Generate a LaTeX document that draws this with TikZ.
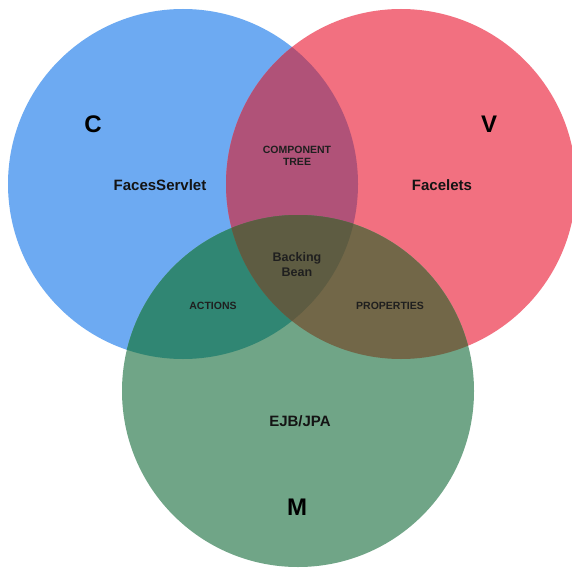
\documentclass[tikz,border=0pt]{standalone}
\usepackage{fontspec}
\setmainfont{Liberation Sans}
\usepackage{tikz}
\usetikzlibrary{positioning}
\usepackage{xcolor}

\definecolor{cBlue}{HTML}{6DAAF2}
\definecolor{cRed}{HTML}{F27080}
\definecolor{cGreen}{HTML}{70A587}
\definecolor{cBR}{HTML}{B05278}
\definecolor{cBG}{HTML}{308673}
\definecolor{cRG}{HTML}{726748}
\definecolor{cBRG}{HTML}{5E5C42}

\begin{document}
\begin{tikzpicture}[x=1pt, y=-1pt,
    letter/.style={font=\fontsize{24}{28}\selectfont\bfseries, text=black},
    bigtxt/.style={font=\fontsize{15}{18}\selectfont\bfseries, align=center, text=black!92},
    midtxt/.style={font=\fontsize{12.5}{15}\selectfont\bfseries, align=center, text=black!88},
    smalltxt/.style={font=\fontsize{10.5}{12}\selectfont\bfseries, align=center, text=black!88}]
  \path[use as bounding box, fill=white] (0,0) rectangle (572,567);

  % --- circle centres ---
  \coordinate (cC) at (183,184);
  \coordinate (cV) at (401,184);
  \coordinate (cM) at (298,391);

  % --- the three sets ---
  \fill[cBlue]  (cC) circle[radius=175pt];
  \fill[cRed]   (cV) circle[radius=175pt];
  \fill[cGreen] (cM) circle[radius=176pt];

  % --- overlaps ---
  \begin{scope}
    \clip (cC) circle[radius=175pt];
    \fill[cBR] (cV) circle[radius=175pt];
  \end{scope}
  \begin{scope}
    \clip (cC) circle[radius=175pt];
    \fill[cBG] (cM) circle[radius=176pt];
  \end{scope}
  \begin{scope}
    \clip (cV) circle[radius=175pt];
    \fill[cRG] (cM) circle[radius=176pt];
  \end{scope}
  \begin{scope}
    \clip (cC) circle[radius=175pt];
    \clip (cV) circle[radius=175pt];
    \fill[cBRG] (cM) circle[radius=176pt];
  \end{scope}

  % --- labels ---
  \node[letter] (c) at (93,124) {C};
  \node[letter] (v) at (489,124) {V};
  \node[letter] (m) at (297,507) {M};

  \node[bigtxt] (servlet)  at (160,185) {FacesServlet};
  \node[bigtxt] (facelets) at (442,185) {Facelets};
  \node[bigtxt] (ejb)      at (300,421) {EJB/JPA};

  \node[smalltxt] (tree)  at (297,156) {COMPONENT\\TREE};
  \node[midtxt]   (bean)  at (297,265) {Backing\\Bean};
  \node[smalltxt] (act)   at (213,306) {ACTIONS};
  \node[smalltxt] (props) at (390,306) {PROPERTIES};
\end{tikzpicture}
\end{document}
